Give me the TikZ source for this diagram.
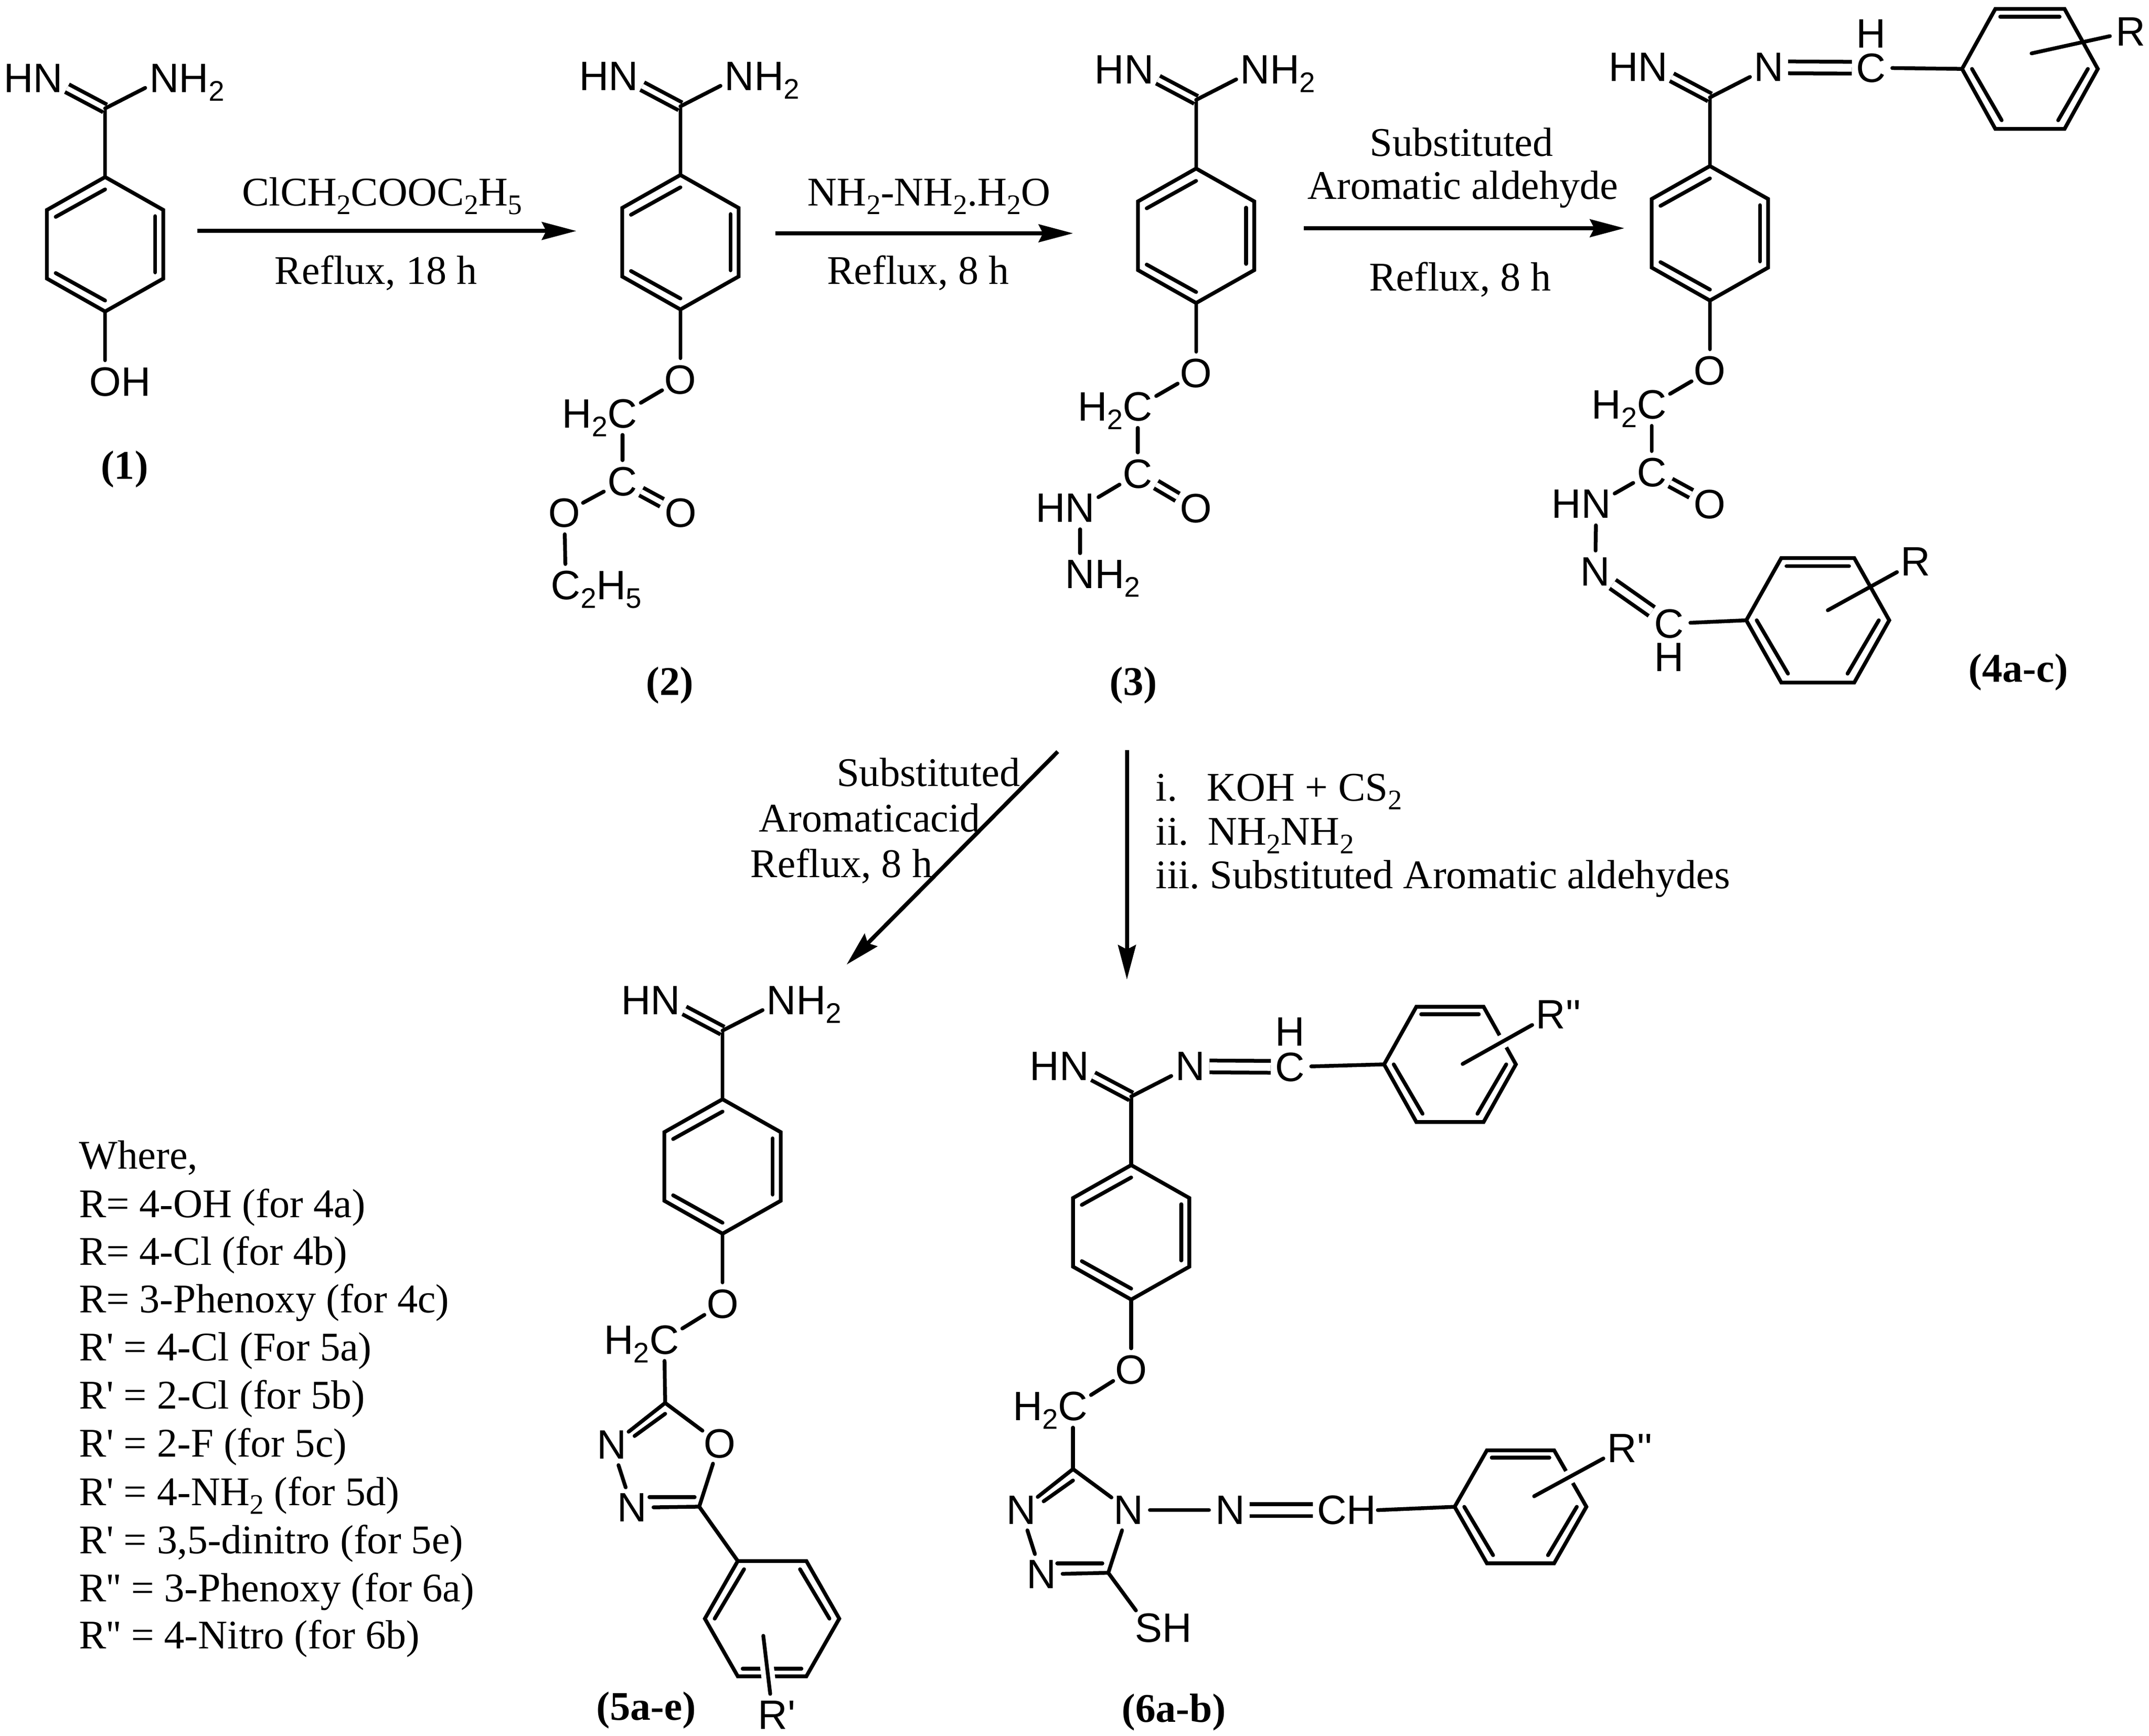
\documentclass[tikz,border=0pt]{standalone}
\usepackage{fontspec}
\usetikzlibrary{arrows.meta}
\newfontfamily\atomfont{Liberation Sans}
\newfontfamily\schemefont{Liberation Serif}
\newcommand{\subs}[1]{\raisebox{-1.7pt}{\fontsize{5.6}{6}\selectfont #1}}
\tikzset{
  bond/.style={line width=0.75pt,line cap=round},
  dbl/.style={line width=0.75pt,double,double distance between line centers=1.7pt},
  dblw/.style={line width=0.75pt,double,double distance between line centers=2.33pt,
    shorten <=-0.4pt,shorten >=-0.4pt},
  halo/.style={white,line width=2.7pt},
  rxn/.style={line width=0.8pt,-{Stealth[length=6.8pt,width=3.5pt,inset=0.85pt]}},
  atom/.style={circle,inner sep=0pt,outer sep=0pt,minimum size=8.4pt,
    font=\fontsize{8.1}{9.7}\selectfont\atomfont},
  txt/.style={anchor=base,inner sep=0pt,font=\fontsize{8.04}{9.6}\selectfont\schemefont},
  wtxt/.style={txt,anchor=base west},
  cmpd/.style={txt,font=\fontsize{8.04}{9.6}\selectfont\schemefont\bfseries}
}
% atom label centred on its first letter
\newcommand{\atm}[3]{\node[atom] (#1) at (#2)
  {\raisebox{-.5\height}[0pt][0pt]{\makebox[0pt]{#3}}};}
% ring with a vertex on top, amidine above, oxygen below
\newcommand{\corering}[4]{%
  \begin{scope}[shift={(#2)}]
    \coordinate (#1t) at (0,-49); \coordinate (#1ur) at (42.4,-25);
    \coordinate (#1lr) at (42.4,25); \coordinate (#1b) at (0,49);
    \coordinate (#1ll) at (-42.4,25); \coordinate (#1ul) at (-42.4,-25);
    \coordinate (#1c) at (0,-99);
    \draw[bond] (#1t) -- (#1ur) -- (#1lr) -- (#1b) -- (#1ll) -- (#1ul) -- cycle;
    \draw[bond] (-36,-20) -- (0,-40);
    \draw[bond] (36.5,-20.5) -- (36.5,20.5);
    \draw[bond] (-36,21) -- (0,41);
    \atm{#1hn}{-41.5,-121}{\llap{H}N}
    \atm{#1nr}{43,-121}{#3}
    \atm{#1o}{0,100}{#4}
    \draw[bond] (#1t) -- (#1c);
    \draw[bond] (#1b) -- (#1o);
    \draw[dbl] (#1hn) -- (#1c);
    \draw[bond] (#1nr) -- (#1c);
  \end{scope}}
% ring with a flat top
\newcommand{\flatring}[4]{%
  \begin{scope}[shift={(#2)},xscale=#3,yscale=#4]
    \coordinate (#1l) at (-48,0); \coordinate (#1tl) at (-24.5,-42);
    \coordinate (#1tr) at (24.5,-42); \coordinate (#1r) at (48,0);
    \coordinate (#1br) at (24.5,42); \coordinate (#1bl) at (-24.5,42);
    \draw[bond] (#1l) -- (#1tl) -- (#1tr) -- (#1r) -- (#1br) -- (#1bl) -- cycle;
    \draw[bond] (-21,-36.5) -- (21,-36.5);
    \draw[bond] (-41,0) -- (-20,36);
    \draw[bond] (41,0) -- (20,36);
  \end{scope}}
\begin{document}
\begin{tikzpicture}[x=0.271pt,y=-0.271pt]
  \useasboundingbox (0,0) rectangle (1566,1265);

  % compound 1
  \corering{ma}{76.6,178}{N\rlap{H\subs{2}}}{O\rlap{H}}
  \node[cmpd] (labela) at (90.7,349) {(1)};

  % compound 2
  \corering{mb}{495.8,176.5}{N\rlap{H\subs{2}}}{O}
  \atm{mbch}{453.6,301.4}{\llap{H\subs{2}}C}
  \atm{mbco}{453.6,350.8}{C}
  \atm{mbdo}{496,373.8}{O}
  \atm{mbeo}{411.2,373.8}{O}
  \atm{mbet}{412.3,426.5}{C\rlap{\subs{2}H\subs{5}}}
  \draw[bond] (mbo) -- (mbch);
  \draw[bond] (mbch) -- (mbco);
  \draw[dbl] (mbco) -- (mbdo);
  \draw[bond] (mbco) -- (mbeo);
  \draw[bond] (mbeo) -- (mbet);
  \node[cmpd] (labelb) at (488,506.5) {(2)};

  % compound 3
  \corering{mc}{871.6,171.8}{N\rlap{H\subs{2}}}{O}
  \atm{mcch}{829.1,296.3}{\llap{H\subs{2}}C}
  \atm{mcco}{829.1,345.2}{C}
  \atm{mcdo}{871.4,370.2}{O}
  \atm{mchn}{787.1,370.2}{\llap{H}N}
  \atm{mcnt}{787.1,418.6}{N\rlap{H\subs{2}}}
  \draw[bond] (mco) -- (mcch);
  \draw[bond] (mcch) -- (mcco);
  \draw[dbl] (mcco) -- (mcdo);
  \draw[bond] (mcco) -- (mchn);
  \draw[bond] (mchn) -- (mcnt);
  \node[cmpd] (labelc) at (826,506.5) {(3)};

  % compound 4
  \corering{md}{1246,170}{N}{O}
  \atm{mdcc}{1363.4,49.4}{C}
  \atm{mdh}{1363.4,24.7}{H}
  \flatring{mdra}{1479.2,50.2}{1.03}{1.04}
  \atm{mdra1}{1552.6,23}{R}
  \coordinate (mdrb1) at (1480.4,38.9);
  \draw[dblw] (mdnr) -- (mdcc);
  \draw[bond] (mdcc) -- (mdral);
  \draw[bond] (mdrb1) -- (mdra1);
  \atm{mdch}{1203.6,294.8}{\llap{H\subs{2}}C}
  \atm{mdco}{1203.6,344.2}{C}
  \atm{mddo}{1246,367.3}{O}
  \atm{mdhn}{1163.1,367.3}{\llap{H}N}
  \atm{mdnn}{1162.5,416.7}{N}
  \atm{mdcb}{1216.3,454.5}{C}
  \atm{mdhb}{1216.3,479}{H}
  \draw[bond] (mdo) -- (mdch);
  \draw[bond] (mdch) -- (mdco);
  \draw[dbl] (mdco) -- (mddo);
  \draw[bond] (mdco) -- (mdhn);
  \draw[bond] (mdhn) -- (mdnn);
  \draw[dbl,double distance between line centers=2.1pt] (mdnn) -- (mdcb);
  \flatring{mdrc}{1324.6,452}{1.085}{1.08}
  \atm{mdrr}{1395.9,409.4}{R}
  \coordinate (mdrs) at (1331.9,444.7);
  \draw[bond] (mdcb) -- (mdrcl);
  \draw[bond] (mdrs) -- (mdrr);
  \node[cmpd] (labeld) at (1470.7,497) {(4a-c)};

  % compound 5
  \corering{me}{526.5,850}{N\rlap{H\subs{2}}}{O}
  \atm{mech}{484,976.2}{\llap{H\subs{2}}C}
  \coordinate (meca) at (484.7,1022.3);
  \atm{menu}{445.9,1052.9}{N}
  \atm{meor}{524.3,1051.8}{O}
  \atm{menl}{460.7,1098.6}{N}
  \coordinate (mecb) at (509.5,1097.9);
  \draw[bond] (meo) -- (mech);
  \draw[bond] (mech) -- (meca);
  \draw[bond] (meca) -- (menu);
  \draw[bond] (484.7,1030.2) -- (462.4,1046.4);
  \draw[bond] (meca) -- (meor);
  \draw[bond] (meor) -- (mecb);
  \draw[bond] (mecb) -- (menl);
  \draw[bond] (473.2,1091) -- (506.2,1091);
  \draw[bond] (menu) -- (menl);
  \flatring{mera}{562.6,1179.5}{1.02}{-1}
  \draw[bond] (mecb) -- (merabl);
  \atm{merr}{563.1,1249.7}{R\rlap{'}}
  \coordinate (mers) at (556.2,1192);
  \draw[halo] (mers) -- (merr);
  \draw[bond] (mers) -- (merr);
  \node[cmpd] (labele) at (470.8,1253.4) {(5a-e)};

  % compound 6
  \corering{mf}{824.3,898}{N}{O}
  \atm{mfcc}{940,777.5}{C}
  \atm{mfh}{940,752}{H}
  \flatring{mfra}{1056.6,775.6}{1}{1}
  \atm{mfrr}{1130,739.3}{R\rlap{''}}
  \coordinate (mfrs) at (1065.8,775.3);
  \draw[dblw] (mfnr) -- (mfcc);
  \draw[bond] (mfcc) -- (mfral);
  \draw[halo] (mfrs) -- (mfrr);
  \draw[bond] (mfrs) -- (mfrr);
  \atm{mfch}{781.9,1024.8}{\llap{H\subs{2}}C}
  \coordinate (mfca) at (781.9,1070.5);
  \atm{mfnu}{744,1100.4}{N}
  \atm{mfnf}{822.4,1100.4}{N}
  \atm{mfnl}{758.8,1147.2}{N}
  \coordinate (mfcb) at (807.6,1146.1);
  \atm{mfsh}{836.9,1186}{S\rlap{H}}
  \atm{mfnx}{896.5,1100.4}{N}
  \atm{mfcx}{970.6,1100.4}{C\rlap{H}}
  \coordinate (mfhx) at (1004,1100.4);
  \draw[bond] (mfo) -- (mfch);
  \draw[bond] (mfch) -- (mfca);
  \draw[bond] (mfca) -- (mfnu);
  \draw[bond] (781.9,1078.8) -- (760.5,1094);
  \draw[bond] (mfca) -- (mfnf);
  \draw[bond] (mfnf) -- (mfcb);
  \draw[bond] (mfcb) -- (mfnl);
  \draw[bond] (770.4,1139.2) -- (803.3,1139.2);
  \draw[bond] (mfnu) -- (mfnl);
  \draw[bond] (mfcb) -- (mfsh);
  \draw[bond] (mfnf) -- (mfnx);
  \draw[dblw] (mfnx) -- (mfcx);
  \flatring{mfrb}{1108,1098}{1}{0.98}
  \draw[bond] (mfhx) -- (mfrbl);
  \atm{mfrt}{1182,1055.4}{R\rlap{''}}
  \coordinate (mfru) at (1117.9,1090.3);
  \draw[halo] (mfru) -- (mfrt);
  \draw[bond] (mfru) -- (mfrt);
  \node[cmpd] (labelf) at (855.3,1255) {(6a-b)};

  % reaction arrows
  \coordinate (arra) at (144,168.3); \coordinate (arrb) at (420,168.3);
  \coordinate (arrc) at (565,170); \coordinate (arrd) at (782,170);
  \coordinate (arre) at (950,166.3); \coordinate (arrf) at (1183.7,166.3);
  \coordinate (arrg) at (770.8,547.7); \coordinate (arrh) at (616.9,702.9);
  \coordinate (arri) at (821.2,546.5); \coordinate (arrj) at (821.2,713.8);
  \draw[rxn] (arra) -- (arrb);
  \draw[rxn] (arrc) -- (arrd);
  \draw[rxn] (arre) -- (arrf);
  \draw[rxn] (arrg) -- (arrh);
  \draw[rxn] (arri) -- (arrj);

  % reagents
  \node[txt] (rgta) at (278.4,150) {ClCH\subs{2}COOC\subs{2}H\subs{5}};
  \node[txt] (rgtb) at (274,207) {Reflux, 18 h};
  \node[txt] (rgtc) at (677,150) {NH\subs{2}-NH\subs{2}.H\subs{2}O};
  \node[txt] (rgtd) at (669,207) {Reflux, 8 h};
  \node[txt] (rgte) at (1065,113.6) {Substituted};
  \node[txt] (rgtf) at (1066,145) {Aromatic aldehyde};
  \node[txt] (rgtg) at (1064,212) {Reflux, 8 h};
  \node[txt] (rgth) at (676.5,572.8) {Substituted};
  \node[txt] (rgti) at (633.7,606) {Aromaticacid};
  \node[txt] (rgtj) at (613.2,639.5) {Reflux, 8 h};
  \node[wtxt] (rgtk) at (841.5,583.8) {i.};
  \node[wtxt] (rgtl) at (878.6,583.8) {KOH + CS\subs{2}};
  \node[wtxt] (rgtm) at (841.5,615.6) {ii.};
  \node[wtxt] (rgtn) at (879.5,615.6) {NH\subs{2}NH\subs{2}};
  \node[wtxt] (rgto) at (841.5,647.4) {iii.};
  \node[wtxt] (rgtp) at (881,647.4) {Substituted Aromatic aldehydes};

  % substituent list
  \node[wtxt] (whra) at (57,851.9) {Where,};
  \node[wtxt] (whrb) at (57,887) {R= 4-OH (for 4a)};
  \node[wtxt] (whrc) at (57,921.8) {R= 4-Cl (for 4b)};
  \node[wtxt] (whrd) at (57,956.6) {R= 3-Phenoxy (for 4c)};
  \node[wtxt] (whre) at (57,991.7) {R' = 4-Cl (For 5a)};
  \node[wtxt] (whrf) at (57,1026.7) {R' = 2-Cl (for 5b)};
  \node[wtxt] (whrg) at (57,1061.5) {R' = 2-F (for 5c)};
  \node[wtxt] (whrh) at (57,1097) {R' = 4-NH\subs{2} (for 5d)};
  \node[wtxt] (whri) at (57,1131.9) {R' = 3,5-dinitro (for 5e)};
  \node[wtxt] (whrj) at (57,1167) {R'' = 3-Phenoxy (for 6a)};
  \node[wtxt] (whrk) at (57,1201.3) {R'' = 4-Nitro (for 6b)};
\end{tikzpicture}
\end{document}
